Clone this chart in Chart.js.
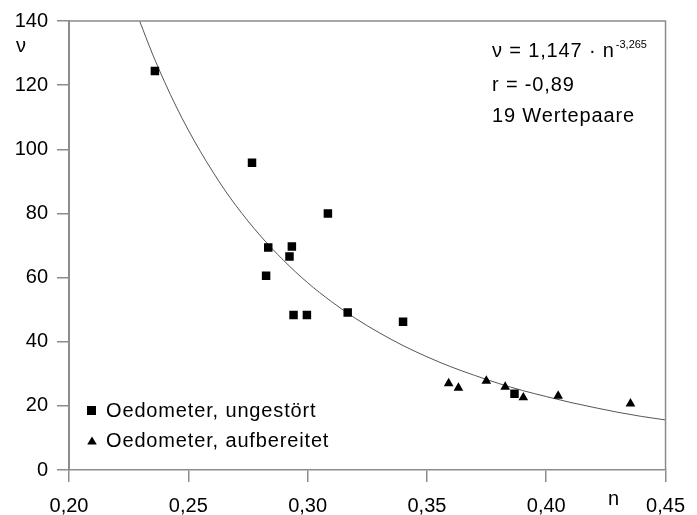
<!DOCTYPE html>
<html>
<head>
<meta charset="utf-8">
<script src="https://cdn.jsdelivr.net/npm/chart.js@4"></script>
<style>
  html, body { margin: 0; padding: 0; background: #fff; }
  #wrap { width: 697px; height: 515px; }
</style>
</head>
<body>
<div id="wrap"><canvas id="c" width="697" height="515"></canvas></div>
<script>
// ---- data ----
const squareN = [0.236, 0.2767, 0.3085, 0.2835, 0.2934, 0.2924, 0.2826, 0.2941, 0.2997, 0.3168, 0.340, 0.3867];
const squareV = [124.4, 95.8, 80.0, 69.4, 69.7, 66.6, 60.6, 48.3, 48.3, 49.1, 46.2, 23.8];
const triN = [0.3591, 0.3632, 0.3749, 0.3828, 0.3904, 0.405, 0.4353];
const triV = [27.0, 25.6, 27.8, 25.9, 22.6, 23.1, 20.7];
// fitted curve points (as drawn)
const curveN = [0.2296, 0.235, 0.24, 0.245, 0.25, 0.255, 0.26, 0.265, 0.27, 0.28, 0.29, 0.30, 0.31, 0.32, 0.33, 0.34, 0.35, 0.36, 0.37, 0.38, 0.39, 0.40, 0.41, 0.42, 0.43, 0.44, 0.45];
const curveV = [140.0, 129.7, 121.1, 113.2, 106.0, 99.4, 93.3, 87.6, 82.4, 73.2, 65.3, 58.4, 52.5, 47.3, 42.8, 38.8, 35.3, 32.2, 29.5, 27.0, 24.8, 22.9, 21.1, 19.5, 18.0, 16.7, 15.6];
const xTicks = [0.20, 0.25, 0.30, 0.35, 0.40, 0.45];
const yTicks = [0, 20, 40, 60, 80, 100, 120, 140];
const seriesNames = ["Oedometer, ungestört", "Oedometer, aufbereitet"];
const xLabel = "n";
const yLabel = "ν";
const eqMain = "ν = 1,147 · n";
const eqExp = "-3,265";
const statLines = ["r = -0,89", "19 Wertepaare"];

const FONT = "'Liberation Sans', Arial, Helvetica, sans-serif";
const AXIS = "#8c8c8c";

const toPts = (xs, ys) => xs.map((x, i) => ({ x: x, y: ys[i] }));

const overlay = {
  id: 'overlay',
  afterDraw(chart) {
    const ctx = chart.ctx;
    const a = chart.chartArea;
    ctx.save();
    // top and right frame
    ctx.strokeStyle = AXIS;
    ctx.lineWidth = 1.5;
    ctx.beginPath();
    ctx.moveTo(a.left, a.top);
    ctx.lineTo(a.right, a.top);
    ctx.lineTo(a.right, a.bottom);
    ctx.stroke();

    ctx.fillStyle = '#000';
    ctx.textBaseline = 'alphabetic';
    ctx.textAlign = 'left';
    // axis labels
    ctx.font = "20px " + FONT;
    ctx.fillText(yLabel, 16, 52);
    ctx.fillText(xLabel, 608, 505);

    // equation + statistics
    ctx.letterSpacing = "0.85px";
    ctx.font = "20px " + FONT;
    ctx.fillText(eqMain, 492, 57);
    const w = ctx.measureText(eqMain).width;
    ctx.letterSpacing = "0px";
    ctx.font = "11px " + FONT;
    ctx.fillText(eqExp, 492 + w + 1, 48);
    ctx.letterSpacing = "0.85px";
    ctx.font = "20px " + FONT;
    ctx.fillText(statLines[0], 492, 91);
    ctx.fillText(statLines[1], 492, 122);

    // legend
    ctx.letterSpacing = "0px";
    ctx.fillStyle = '#000';
    ctx.fillRect(87, 406, 9, 9);
    ctx.beginPath();
    ctx.moveTo(92, 436.5);
    ctx.lineTo(96.8, 444.5);
    ctx.lineTo(87.2, 444.5);
    ctx.closePath();
    ctx.fill();
    ctx.letterSpacing = "0.85px";
    ctx.font = "20px " + FONT;
    ctx.textBaseline = 'middle';
    ctx.fillText(seriesNames[0], 106, 411.5);
    ctx.fillText(seriesNames[1], 106, 441);
    ctx.restore();
  }
};

new Chart(document.getElementById('c'), {
  type: 'scatter',
  data: {
    datasets: [
      {
        label: 'Kurve',
        data: toPts(curveN, curveV),
        showLine: true,
        pointRadius: 0,
        borderColor: '#555555',
        borderWidth: 1,
        cubicInterpolationMode: 'monotone',
        fill: false,
        order: 3
      },
      {
        label: seriesNames[0],
        data: toPts(squareN, squareV),
        pointStyle: 'rect',
        pointRadius: 6,
        backgroundColor: '#000',
        borderColor: '#000',
        borderWidth: 0,
        order: 1
      },
      {
        label: seriesNames[1],
        data: toPts(triN, triV),
        pointStyle: 'triangle',
        pointRadius: 5.6,
        backgroundColor: '#000',
        borderColor: '#000',
        borderWidth: 0,
        order: 2
      }
    ]
  },
  options: {
    responsive: false,
    animation: false,
    devicePixelRatio: 1,
    layout: { padding: { top: 16, right: 23, left: 0, bottom: 0 } },
    plugins: { legend: { display: false }, tooltip: { enabled: false }, title: { display: false } },
    scales: {
      x: {
        type: 'linear',
        min: 0.20, max: 0.45,
        afterBuildTicks(axis) { axis.ticks = xTicks.map(v => ({ value: v })); },
        afterFit(axis) { axis.height = 45; },
        ticks: {
          padding: 12,
          color: '#000',
          font: { family: FONT, size: 20 },
          maxRotation: 0,
          callback: (v) => Number(v).toFixed(2).replace('.', ',')
        },
        grid: { drawOnChartArea: false, drawTicks: true, tickLength: 12, color: AXIS, lineWidth: 1.5 },
        border: { display: true, color: AXIS, width: 1.5 }
      },
      y: {
        type: 'linear',
        min: 0, max: 140,
        afterBuildTicks(axis) { axis.ticks = yTicks.map(v => ({ value: v })); },
        afterFit(axis) { axis.width = 69; },
        ticks: {
          padding: 9,
          color: '#000',
          font: { family: FONT, size: 20 },
          callback: (v) => String(v)
        },
        grid: { drawOnChartArea: false, drawTicks: true, tickLength: 12, color: AXIS, lineWidth: 1.5 },
        border: { display: true, color: AXIS, width: 2 }
      }
    }
  },
  plugins: [overlay]
});
</script>
</body>
</html>
